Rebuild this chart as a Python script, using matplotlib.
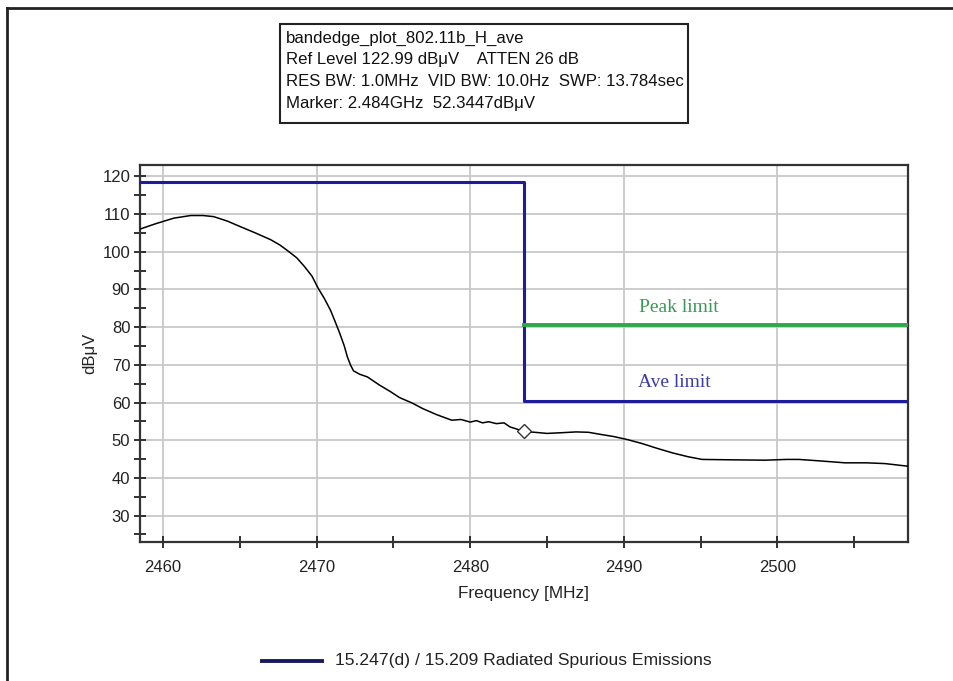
import matplotlib.pyplot as plt
from matplotlib.lines import Line2D
from matplotlib.patches import Rectangle
from matplotlib.ticker import MultipleLocator

plt.rcParams['font.family'] = ['Liberation Sans', 'DejaVu Sans']

# trazo medido (MHz, dBuV)
freq = [2458.5, 2459.5, 2460.7, 2461.8, 2462.6, 2463.3, 2464.2, 2465.0, 2466.0,
        2467.0, 2467.6, 2468.1, 2468.7, 2469.2, 2469.7, 2470.1, 2470.5, 2470.9,
        2471.2, 2471.5, 2471.8, 2472.0, 2472.2, 2472.4, 2472.8, 2473.3, 2474.1,
        2474.8, 2475.4, 2476.2, 2476.9, 2477.8, 2478.8, 2479.4, 2480.0, 2480.4,
        2480.8, 2481.2, 2481.7, 2482.2, 2482.6, 2483.0, 2483.5, 2484.2, 2485.0,
        2486.0, 2486.9, 2487.7, 2488.4, 2489.3, 2490.2, 2491.2, 2492.2, 2493.2,
        2494.2, 2495.1, 2497.0, 2499.2, 2500.6, 2501.4, 2502.8, 2504.4, 2505.8,
        2507.0, 2508.5]
level = [106.0, 107.4, 108.9, 109.6, 109.6, 109.3, 108.1, 106.7, 105.0,
         103.2, 101.8, 100.3, 98.4, 96.1, 93.5, 90.3, 87.6, 84.5,
         81.5, 78.4, 75.0, 72.1, 70.0, 68.4, 67.5, 66.8, 64.6,
         62.9, 61.3, 59.9, 58.4, 56.8, 55.3, 55.5, 54.8, 55.2,
         54.6, 54.9, 54.4, 54.6, 53.5, 53.0, 52.3, 52.1, 51.8,
         52.0, 52.2, 52.1, 51.6, 51.0, 50.2, 49.1, 47.8, 46.6,
         45.6, 44.9, 44.8, 44.7, 44.9, 44.9, 44.5, 44.0, 44.0,
         43.8, 43.1]

# limites
f_edge = 2483.5
ref_limit = 118.6
peak_limit = 80.5
ave_limit = 60.4
marker_f, marker_lvl = 2483.5, 52.3447

info_lines = ["bandedge_plot_802.11b_H_ave",
              "Ref Level 122.99 dB\u03bcV    ATTEN 26 dB",
              "RES BW: 1.0MHz  VID BW: 10.0Hz  SWP: 13.784sec",
              "Marker: 2.484GHz  52.3447dB\u03bcV"]

W, H = 954, 681
fig = plt.figure(figsize=(W / 100, H / 100), dpi=100)
ax = fig.add_axes([140 / W, 1 - 542 / H, 768 / W, 377 / H])

ax.plot(freq, level, color='black', lw=1.1, zorder=3)
ax.plot([freq[0], f_edge, f_edge, freq[-1]], [ref_limit, ref_limit, ave_limit, ave_limit],
        color='#1c1c9c', lw=2.2, zorder=4)
ax.plot([f_edge, freq[-1]], [peak_limit, peak_limit], color='#2ea84a', lw=2.8, zorder=4)
ax.plot([marker_f], [marker_lvl], marker='D', ms=7, mfc='white', mec='#333333', mew=1.0, zorder=5)

ax.text(2491.0, 85.1, "Peak limit", family='Liberation Serif', fontsize=14, color='#3a9a55', va='center')
ax.text(2490.9, 65.4, "Ave limit", family='Liberation Serif', fontsize=14, color='#3c3ca8', va='center')

ax.set_xlim(2458.5, 2508.5)
ax.set_ylim(23, 123)
ax.xaxis.set_major_locator(MultipleLocator(10))
ax.xaxis.set_minor_locator(MultipleLocator(5))
ax.yaxis.set_major_locator(MultipleLocator(10))
ax.yaxis.set_minor_locator(MultipleLocator(5))
ax.set_yticks(range(30, 121, 10))
ax.grid(True, which='major', color='#c8c8c8', lw=1.3)
ax.tick_params(which='both', direction='inout', length=8, width=1.3, color='#222222',
               labelsize=12, labelcolor='#222222')
ax.tick_params(axis='x', pad=9)
ax.tick_params(axis='y', pad=3)
for s in ax.spines.values():
    s.set_color('#333333')
    s.set_linewidth(1.6)
ax.set_xlabel("Frequency [MHz]", fontsize=12.3, color='#222222', labelpad=8)
ax.set_ylabel("dB\u03bcV", fontsize=12, color='#222222', labelpad=4)

# cuadro de informacion
fig.patches.append(Rectangle((280 / W, 1 - 123 / H), 408 / W, 99 / H, transform=fig.transFigure,
                             fill=False, ec='#222222', lw=1.5))
for i, t in enumerate(info_lines):
    fig.text(286 / W, 1 - (38 + 21.7 * i) / H, t, fontsize=12.1, color='#111111', va='center')

# leyenda
fig.lines.append(Line2D([262 / W, 322 / W], [1 - 661 / H] * 2, transform=fig.transFigure,
                        color='#1a1a5e', lw=2.8))
fig.text(335 / W, 1 - 661 / H, "15.247(d) / 15.209 Radiated Spurious Emissions",
         fontsize=12.6, color='#222222', va='center')

# marco exterior
fig.lines.append(Line2D([7 / W, 1], [1 - 7.5 / H] * 2, transform=fig.transFigure, color='#222222', lw=2))
fig.lines.append(Line2D([7 / W] * 2, [0, 1 - 7.5 / H], transform=fig.transFigure, color='#222222', lw=2))

fig.savefig("out.png", dpi=100)
